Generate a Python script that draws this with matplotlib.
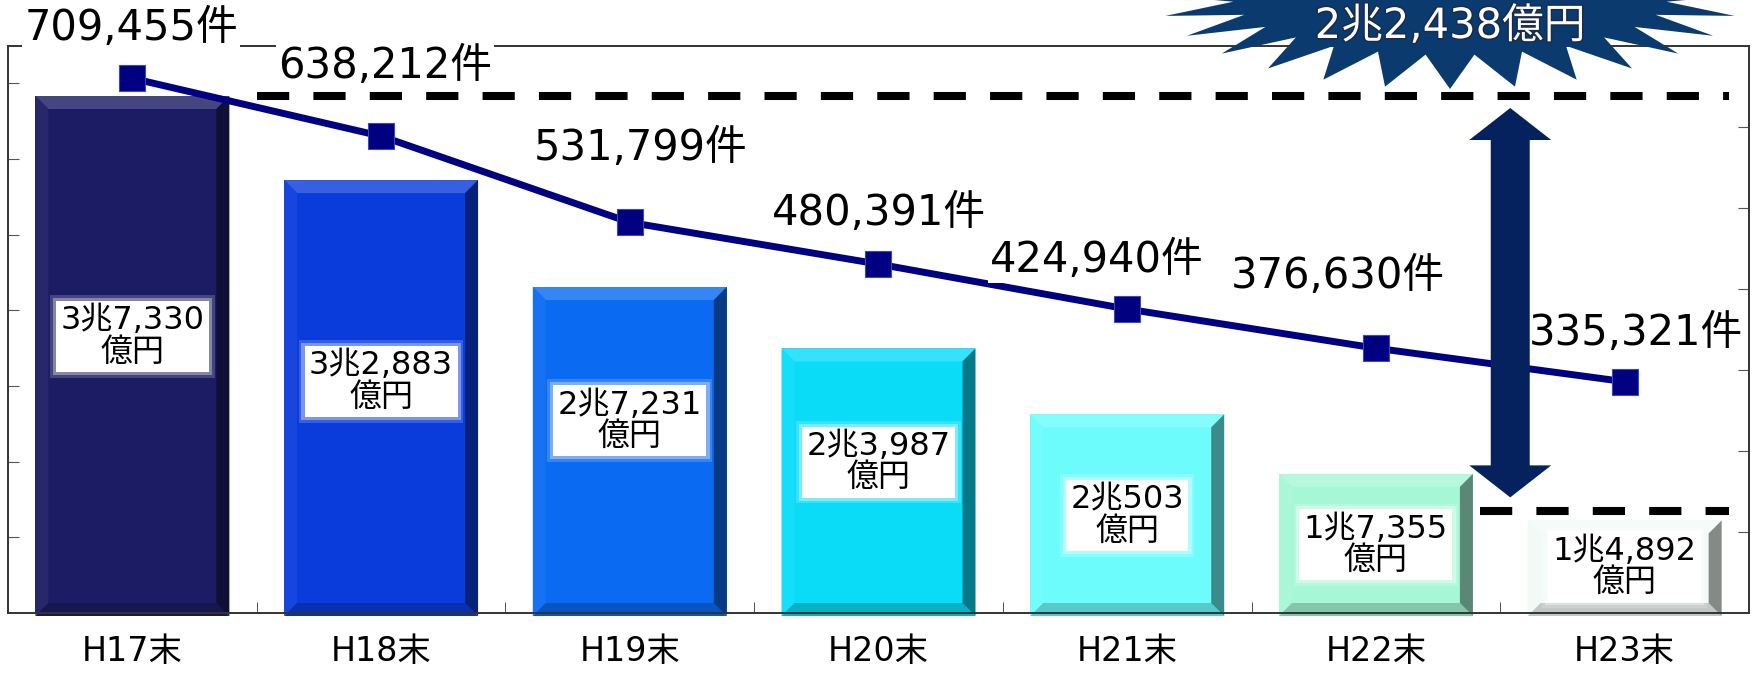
import numpy as np
import matplotlib
matplotlib.use('Agg')
import matplotlib.pyplot as plt
import matplotlib.patheffects as pe
from matplotlib.patches import Polygon
from matplotlib.transforms import IdentityTransform
from matplotlib.colors import to_rgb

plt.rcParams['font.family'] = ['DejaVu Sans', 'Noto Sans CJK JP']

# 年度末ごとの残高（億円）と件数
years = ['H17末', 'H18末', 'H19末', 'H20末', 'H21末', 'H22末', 'H23末']
amounts = [37330, 32883, 27231, 23987, 20503, 17355, 14892]
amount_labels = ['3兆7,330\n億円', '3兆2,883\n億円', '2兆7,231\n億円', '2兆3,987\n億円',
                 '2兆503\n億円', '1兆7,355\n億円', '1兆4,892\n億円']
counts = [709455, 638212, 531799, 480391, 424940, 376630, 335321]
count_labels = ['709,455件', '638,212件', '531,799件', '480,391件',
                '424,940件', '376,630件', '335,321件']
reduction_label = '2兆2,438億円'

bar_colors = ['#1c1c64', '#0a3cdc', '#0a6af2', '#0adcf8', '#6cfcfc', '#a6f7d6', '#f2faf6']
label_frac = [0.535, 0.535, 0.59, 0.57, 0.49, 0.49, 0.5]
count_offsets = [(-1, 50), (4, 70), (11, 74), (0, 51), (-30, 49), (-38, 72), (11, 49)]

W, H = 1756, 673
y_min, y_max = 10000, 40000


def shade(c, f):
    c = np.array(to_rgb(c))
    if f >= 0:
        return tuple(c + (1 - c) * f)
    return tuple(c * (1 + f))


fig = plt.figure(figsize=(W / 100, H / 100), dpi=100)
ax = fig.add_axes([8 / W, 60 / H, 1741 / W, 567.5 / H])
x = np.arange(len(years))
ax.set_xlim(-0.5, len(years) - 0.5)
ax.set_ylim(y_min, y_max)

heights = np.array(amounts) - y_min
bars = ax.bar(x, heights, bottom=y_min, width=0.78, color=bar_colors, linewidth=0, zorder=2)

# bevel edges on each bar (pixel space)
b = 13
for bar, c in zip(bars, bar_colors):
    x0, y0 = ax.transData.transform((bar.get_x(), bar.get_y()))
    x1, y1 = ax.transData.transform((bar.get_x() + bar.get_width(), bar.get_y() + bar.get_height()))
    y0 -= 3
    faces = [
        ([(x0, y1), (x1, y1), (x1 - b, y1 - b), (x0 + b, y1 - b)], shade(c, 0.18)),
        ([(x0, y0), (x0, y1), (x0 + b, y1 - b), (x0 + b, y0 + b)], shade(c, 0.05)),
        ([(x0, y0), (x1, y0), (x1 - b, y0 + b), (x0 + b, y0 + b)], shade(c, -0.2)),
        ([(x1, y1), (x1, y0), (x1 - b, y0 + b), (x1 - b, y1 - b)], shade(c, -0.45)),
    ]
    for pts, fc in faces:
        ax.add_patch(Polygon(pts, closed=True, transform=IdentityTransform(),
                             facecolor=fc, edgecolor='none', zorder=2.1, clip_on=False))

# amount boxes inside the bars, with a soft white glow
for xi, amt, lbl, fr in zip(x, amounts, amount_labels, label_frac):
    yy = y_min + fr * (amt - y_min)
    for pad, alpha in [(0.32, 0.18), (0.24, 0.35)]:
        ax.text(xi, yy, lbl, ha='center', va='center', fontsize=23, color='none', linespacing=1.0,
                bbox=dict(boxstyle='square,pad=%.2f' % pad, fc='white', ec='none', alpha=alpha), zorder=3)
    ax.text(xi, yy, lbl, ha='center', va='center', fontsize=23, color='black', linespacing=1.0,
            bbox=dict(boxstyle='square,pad=0.14', fc='white', ec='none'), zorder=3.1)

# reference dashed lines
upper_y = amounts[0]
lower_y = amounts[-1] + 480
ax.plot([0.5, 6.42], [upper_y, upper_y], color='black', lw=5.8, ls=(0, (4, 3)), zorder=4, clip_on=False)
ax.plot([5.42, 6.42], [lower_y, lower_y], color='black', lw=5.8, ls=(0, (4, 3)), zorder=4, clip_on=False)

ax.set_yticks(np.arange(14000, y_max, 4000))
ax.tick_params(axis='y', direction='in', length=8, labelleft=False, color='#555555')
ax.set_xticks(x, years)
ax.set_xticks(x[:-1] + 0.5, minor=True)
ax.tick_params(axis='x', which='major', length=0, pad=16, labelsize=24)
ax.tick_params(axis='x', which='minor', direction='in', length=8, color='#333333')
for s in ax.spines.values():
    s.set_linewidth(1.2)
    s.set_color('#333333')

# 件数 line on the secondary axis
ax2 = ax.twinx()
ax2.set_ylim(50000, 750000)
ax2.set_yticks(np.arange(150000, 750000, 100000))
ax2.tick_params(axis='y', direction='in', length=8, labelright=False, color='#555555')
for s in ax2.spines.values():
    s.set_linewidth(1.2)
    s.set_color('#333333')
ax2.plot(x, counts, color='#000080', lw=5, marker='s', ms=19, mec='#3a4ab8', mew=0.8, zorder=3)
for xi, cnt, lbl, off in zip(x, counts, count_labels, count_offsets):
    ax2.annotate(lbl, (xi, cnt), xytext=off, textcoords='offset pixels', ha='center', va='center',
                 fontsize=30, color='black', annotation_clip=False,
                 bbox=dict(boxstyle='square,pad=0.05', fc='white', ec='none'), zorder=4)

# double arrow between the two dashed levels
xc, yt = ax.transData.transform((5.54, upper_y))
_, yb = ax.transData.transform((5.54, lower_y))
yt -= 12
yb += 14
hw, sw, hl = 41, 19.5, 32
arrow_pts = [(xc, yt), (xc + hw, yt - hl), (xc + sw, yt - hl), (xc + sw, yb + hl), (xc + hw, yb + hl),
             (xc, yb), (xc - hw, yb + hl), (xc - sw, yb + hl), (xc - sw, yt - hl), (xc - hw, yt - hl)]
ax2.add_patch(Polygon(arrow_pts, closed=True, transform=IdentityTransform(),
                      facecolor='#05225e', edgecolor='none', zorder=6, clip_on=False))

# starburst with the reduction amount
cx, cy = 1450, H + 5
n = 28
ang = np.deg2rad(-90 + np.arange(n) * 360 / n)
half = np.deg2rad(180 / n)
star = []
for a in ang:
    star.append((cx + 292 * np.cos(a), cy + 94 * np.sin(a)))
    star.append((cx + 218 * np.cos(a + half), cy + 60 * np.sin(a + half)))
fig.patches.append(Polygon(star, closed=True, transform=IdentityTransform(),
                           facecolor='#0a3a6e', edgecolor='none', zorder=5))
fig.text(cx / W, (H - 26) / H, reduction_label, ha='center', va='center', fontsize=30,
         color='white', zorder=6,
         path_effects=[pe.withStroke(linewidth=2, foreground='#1a2a48')])

fig.savefig('out.png', dpi=100)
